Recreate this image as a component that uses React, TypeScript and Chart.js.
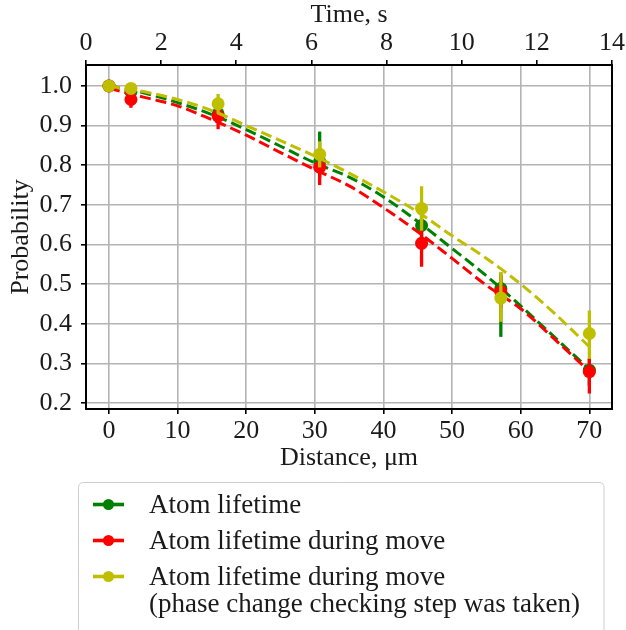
import React, { useEffect, useRef } from "react";
import { Chart, registerables } from "chart.js";

Chart.register(...registerables);

const FONT = "'Liberation Serif', 'Times New Roman', 'DejaVu Serif', serif";
const TEXT = "#1a1a1a";

// Measured points (distance in µm)
const DIST = [0, 3.2, 15.9, 30.7, 45.55, 57.1, 70];

const GREEN_Y = [1.0, 0.985, 0.93, 0.809, 0.648, 0.489, 0.283];
const GREEN_LO = [0, 0.01, 0.02, 0.04, 0.04, 0.122, 0.04];
const GREEN_HI = [0, 0.008, 0.02, 0.076, 0.04, 0.04, 0.03];

const RED_Y = [1.0, 0.966, 0.924, 0.795, 0.603, 0.481, 0.279];
const RED_LO = [0, 0.021, 0.033, 0.045, 0.059, 0.04, 0.055];
const RED_HI = [0, 0.015, 0.03, 0.045, 0.06, 0.04, 0.033];

const YEL_Y = [1.0, 0.994, 0.955, 0.8275, 0.691, 0.465, 0.3755];
const YEL_LO = [0, 0.008, 0.025, 0.033, 0.056, 0.06, 0.064];
const YEL_HI = [0, 0.008, 0.025, 0.033, 0.056, 0.066, 0.058];

// Fit curves
const FIT_X = [0, 5, 10, 15, 20, 25, 30, 35, 40, 45, 50, 55, 60, 65, 70];
const GREEN_FIT = [1.0, 0.983, 0.958, 0.928, 0.89, 0.848, 0.806, 0.77, 0.72, 0.658, 0.59, 0.521, 0.445, 0.365, 0.285];
const RED_FIT = [0.994, 0.972, 0.95, 0.915, 0.876, 0.832, 0.789, 0.748, 0.693, 0.632, 0.565, 0.497, 0.438, 0.36, 0.28];
const YEL_FIT = [1.0, 0.986, 0.966, 0.938, 0.9, 0.862, 0.823, 0.78, 0.733, 0.682, 0.622, 0.565, 0.5, 0.425, 0.342];

const DIST_TICKS = [0, 10, 20, 30, 40, 50, 60, 70];
const TIME_TICKS = [0, 2, 4, 6, 8, 10, 12, 14];
const PROB_TICKS = [0.2, 0.3, 0.4, 0.5, 0.6, 0.7, 0.8, 0.9, 1.0];

const GREEN = "#008000";
const RED = "#ff0000";
const YELLOW = "#bfbf00";

const LEGEND_ITEMS: { color: string; lines: string[] }[] = [
  { color: GREEN, lines: ["Atom lifetime"] },
  { color: RED, lines: ["Atom lifetime during move"] },
  { color: YELLOW, lines: ["Atom lifetime during move", "(phase change checking step was taken)"] },
];

const pts = (xs: number[], ys: number[]) => xs.map((x, i) => ({ x, y: ys[i] }));

const errorBarPlugin = {
  id: "errorBars",
  beforeDatasetDraw(chart: any, args: any) {
    const ds: any = chart.data.datasets[args.index];
    if (!ds.errLo) return;
    const { ctx } = chart;
    const xs = chart.scales.x;
    const ys = chart.scales.y;
    ctx.save();
    ctx.strokeStyle = ds.errColor;
    ctx.lineWidth = 3.3;
    ctx.lineCap = "butt";
    ds.data.forEach((p: any, i: number) => {
      const lo = ds.errLo[i];
      const hi = ds.errHi[i];
      if (!lo && !hi) return;
      const px = xs.getPixelForValue(p.x);
      ctx.beginPath();
      ctx.moveTo(px, ys.getPixelForValue(p.y - lo));
      ctx.lineTo(px, ys.getPixelForValue(p.y + hi));
      ctx.stroke();
    });
    ctx.restore();
  },
};

const framePlugin = {
  id: "frame",
  afterDatasetsDraw(chart: any) {
    const { ctx, chartArea: a } = chart;
    ctx.save();
    ctx.strokeStyle = "#000";
    ctx.lineWidth = 2;
    ctx.strokeRect(a.left, a.top, a.right - a.left, a.bottom - a.top);
    ctx.restore();
  },
};

const legendPlugin = {
  id: "customLegend",
  afterDraw(chart: any) {
    const { ctx } = chart;
    ctx.save();
    const bx = 78.5, by = 482.5, bw = 525.5, bh = 200, r = 5;
    ctx.beginPath();
    ctx.moveTo(bx + r, by);
    ctx.lineTo(bx + bw - r, by);
    ctx.quadraticCurveTo(bx + bw, by, bx + bw, by + r);
    ctx.lineTo(bx + bw, by + bh);
    ctx.lineTo(bx, by + bh);
    ctx.lineTo(bx, by + r);
    ctx.quadraticCurveTo(bx, by, bx + r, by);
    ctx.closePath();
    ctx.fillStyle = "rgba(255,255,255,0.8)";
    ctx.fill();
    ctx.strokeStyle = "#cccccc";
    ctx.lineWidth = 1;
    ctx.stroke();

    const baselines = [512.5, 548.5, 584.5];
    ctx.font = `27px ${FONT}`;
    ctx.textBaseline = "alphabetic";
    ctx.textAlign = "left";
    LEGEND_ITEMS.forEach((item, i) => {
      const base = baselines[i];
      const hy = base - 8;
      ctx.strokeStyle = item.color;
      ctx.lineWidth = 3.6;
      ctx.beginPath();
      ctx.moveTo(93, hy);
      ctx.lineTo(124, hy);
      ctx.stroke();
      ctx.fillStyle = item.color;
      ctx.beginPath();
      ctx.arc(108.5, hy, 5.5, 0, Math.PI * 2);
      ctx.fill();
      ctx.fillStyle = TEXT;
      item.lines.forEach((t, j) => {
        ctx.fillText(t, 149, base + j * 27.5);
      });
    });
    ctx.restore();
  },
};

export default function App() {
  const ref = useRef<HTMLCanvasElement>(null);

  useEffect(() => {
    const tickFont = { family: FONT, size: 26 };
    const titleFont = { family: FONT, size: 26 };
    const gridCommon = {
      color: "#b3b3b3",
      lineWidth: 1.6,
      tickColor: "#000",
      tickWidth: 1.6,
      tickLength: 5,
    };

    const pointDs = (label: string, color: string, ys: number[], lo: number[], hi: number[], order: number) => ({
      label,
      data: pts(DIST, ys),
      showLine: false,
      pointRadius: 6.5,
      pointBackgroundColor: color,
      pointBorderWidth: 0,
      pointBorderColor: color,
      borderColor: color,
      backgroundColor: color,
      errLo: lo,
      errHi: hi,
      errColor: color,
      order,
    });
    const fitDs = (label: string, color: string, ys: number[], order: number) => ({
      label,
      data: pts(FIT_X, ys),
      showLine: true,
      pointRadius: 0,
      borderColor: color,
      backgroundColor: color,
      borderWidth: 3,
      borderDash: [11, 5],
      cubicInterpolationMode: "monotone",
      fill: false,
      order,
    });

    const chart = new Chart(ref.current as HTMLCanvasElement, {
      type: "scatter",
      data: {
        datasets: [
          pointDs("Atom lifetime", GREEN, GREEN_Y, GREEN_LO, GREEN_HI, 6),
          fitDs("Atom lifetime fit", GREEN, GREEN_FIT, 5),
          pointDs("Atom lifetime during move", RED, RED_Y, RED_LO, RED_HI, 4),
          fitDs("Atom lifetime during move fit", RED, RED_FIT, 3),
          pointDs("Atom lifetime during move (phase change checking step was taken)", YELLOW, YEL_Y, YEL_LO, YEL_HI, 2),
          fitDs("phase fit", YELLOW, YEL_FIT, 1),
        ] as any,
      },
      options: {
        responsive: false,
        animation: false,
        events: [],
        layout: { padding: { left: 0, top: 0, right: 14, bottom: 151 } },
        plugins: { legend: { display: false }, tooltip: { enabled: false } },
        scales: {
          x: {
            type: "linear",
            position: "bottom",
            min: -3.35,
            max: 73.3,
            afterBuildTicks: (s: any) => {
              s.ticks = DIST_TICKS.map((v) => ({ value: v }));
            },
            afterFit: (s: any) => {
              s.height = 70;
            },
            ticks: {
              font: tickFont,
              color: TEXT,
              padding: 2,
              autoSkip: false,
              maxRotation: 0,
              callback: (v: any) => String(v),
            },
            grid: { ...gridCommon, drawOnChartArea: true, drawTicks: true },
            border: { display: false },
            title: { display: true, text: "Distance, \u03bcm", font: titleFont, color: TEXT, padding: { top: 0, bottom: 5 } },
          },
          x2: {
            type: "linear",
            axis: "x",
            position: "top",
            min: 0,
            max: 14,
            afterBuildTicks: (s: any) => {
              s.ticks = TIME_TICKS.map((v) => ({ value: v }));
            },
            afterFit: (s: any) => {
              s.height = 65;
            },
            ticks: {
              font: tickFont,
              color: TEXT,
              padding: 1,
              autoSkip: false,
              maxRotation: 0,
              callback: (v: any) => String(v),
            },
            grid: { ...gridCommon, drawOnChartArea: false, drawTicks: true },
            border: { display: false },
            title: { display: true, text: "Time, s", font: titleFont, color: TEXT, padding: { top: 0, bottom: 0 } },
          },
          y: {
            type: "linear",
            position: "left",
            min: 0.185,
            max: 1.053,
            afterBuildTicks: (s: any) => {
              s.ticks = PROB_TICKS.map((v) => ({ value: v }));
            },
            afterFit: (s: any) => {
              s.width = 86;
            },
            ticks: {
              font: tickFont,
              color: TEXT,
              padding: 9,
              autoSkip: false,
              callback: (v: any) => Number(v).toFixed(1),
            },
            grid: { ...gridCommon, drawOnChartArea: true, drawTicks: true },
            border: { display: false },
            title: { display: true, text: "Probability", font: titleFont, color: TEXT, padding: { top: 6, bottom: 0 } },
          },
        },
      } as any,
      plugins: [errorBarPlugin, framePlugin, legendPlugin],
    });
    return () => chart.destroy();
  }, []);

  return (
    <div style={{ position: "absolute", left: 0, top: 0, width: 626, height: 630, background: "#fff" }}>
      <canvas ref={ref} width={626} height={630} style={{ display: "block", width: 626, height: 630 }} />
    </div>
  );
}
